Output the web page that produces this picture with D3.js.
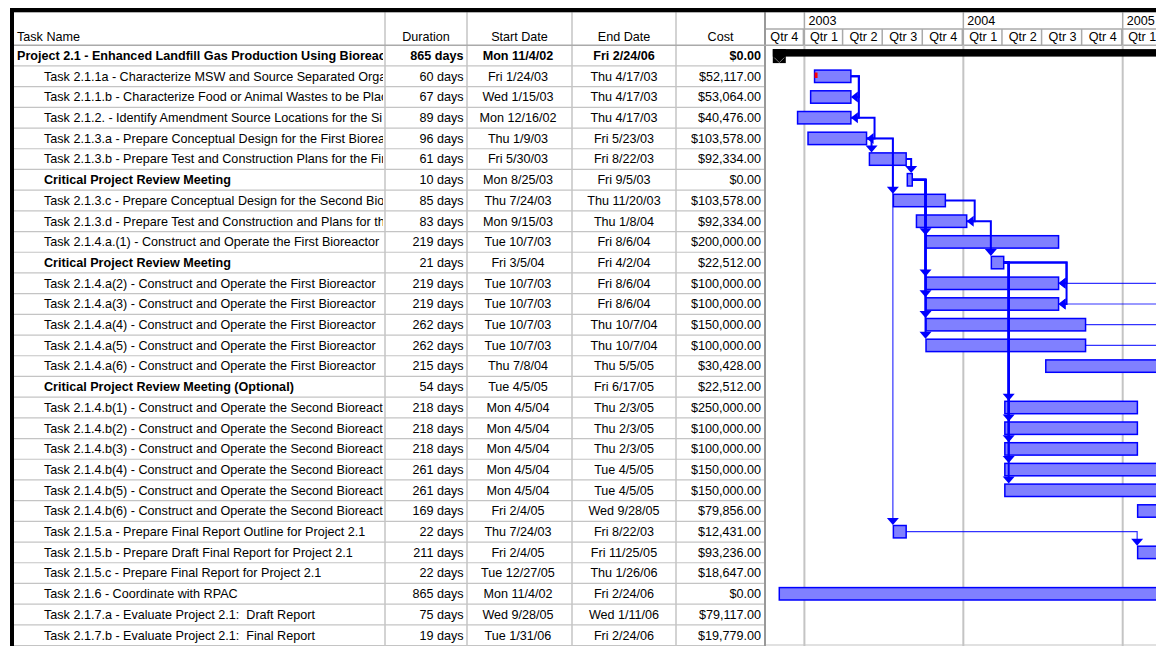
<!DOCTYPE html>
<html>
<head>
<meta charset="utf-8">
<script src="https://cdn.jsdelivr.net/npm/d3@7"></script>
<style>
  body { margin: 0; background: #fff; }
  svg { display: block; font-family: "Liberation Sans", Arial, sans-serif; font-size: 12.6px; }
  svg text { white-space: pre; }
</style>
</head>
<body>
<div id="chart"></div>
<script>

// names as the column shows them (the column cuts them off)
var taskNames = [
  "Project 2.1 - Enhanced Landfill Gas Production Using Bioreact",
  "Task 2.1.1a - Characterize MSW and Source Separated Orga",
  "Task 2.1.1.b - Characterize Food or Animal Wastes to be Plac",
  "Task 2.1.2. - Identify Amendment Source Locations for the Si",
  "Task 2.1.3.a - Prepare Conceptual Design for the First Bioreac",
  "Task 2.1.3.b - Prepare Test and Construction Plans for the Fir",
  "Critical Project Review Meeting",
  "Task 2.1.3.c - Prepare Conceptual Design for the Second Bior",
  "Task 2.1.3.d - Prepare Test and Construction and Plans for the",
  "Task 2.1.4.a.(1) - Construct and Operate the First Bioreactor",
  "Critical Project Review Meeting",
  "Task 2.1.4.a(2) - Construct and Operate the First Bioreactor",
  "Task 2.1.4.a(3) - Construct and Operate the First Bioreactor",
  "Task 2.1.4.a(4) - Construct and Operate the First Bioreactor",
  "Task 2.1.4.a(5) - Construct and Operate the First Bioreactor",
  "Task 2.1.4.a(6) - Construct and Operate the First Bioreactor",
  "Critical Project Review Meeting (Optional)",
  "Task 2.1.4.b(1) - Construct and Operate the Second Bioreacto",
  "Task 2.1.4.b(2) - Construct and Operate the Second Bioreacto",
  "Task 2.1.4.b(3) - Construct and Operate the Second Bioreacto",
  "Task 2.1.4.b(4) - Construct and Operate the Second Bioreacto",
  "Task 2.1.4.b(5) - Construct and Operate the Second Bioreacto",
  "Task 2.1.4.b(6) - Construct and Operate the Second Bioreacto",
  "Task 2.1.5.a - Prepare Final Report Outline for Project 2.1",
  "Task 2.1.5.b - Prepare Draft Final Report for Project 2.1",
  "Task 2.1.5.c - Prepare Final Report for Project 2.1",
  "Task 2.1.6 - Coordinate with RPAC",
  "Task 2.1.7.a - Evaluate Project 2.1:  Draft Report",
  "Task 2.1.7.b - Evaluate Project 2.1:  Final Report"
];

var durations = [
  "865 days", "60 days", "67 days", "89 days", "96 days", "61 days", "10 days",
  "85 days", "83 days", "219 days", "21 days", "219 days", "219 days", "262 days",
  "262 days", "215 days", "54 days", "218 days", "218 days", "218 days", "261 days",
  "261 days", "169 days", "22 days", "211 days", "22 days", "865 days", "75 days", "19 days"
];

var startDates = [
  "Mon 11/4/02", "Fri 1/24/03", "Wed 1/15/03", "Mon 12/16/02", "Thu 1/9/03", "Fri 5/30/03",
  "Mon 8/25/03", "Thu 7/24/03", "Mon 9/15/03", "Tue 10/7/03", "Fri 3/5/04", "Tue 10/7/03",
  "Tue 10/7/03", "Tue 10/7/03", "Tue 10/7/03", "Thu 7/8/04", "Tue 4/5/05", "Mon 4/5/04",
  "Mon 4/5/04", "Mon 4/5/04", "Mon 4/5/04", "Mon 4/5/04", "Fri 2/4/05", "Thu 7/24/03",
  "Fri 2/4/05", "Tue 12/27/05", "Mon 11/4/02", "Wed 9/28/05", "Tue 1/31/06"
];

var endDates = [
  "Fri 2/24/06", "Thu 4/17/03", "Thu 4/17/03", "Thu 4/17/03", "Fri 5/23/03", "Fri 8/22/03",
  "Fri 9/5/03", "Thu 11/20/03", "Thu 1/8/04", "Fri 8/6/04", "Fri 4/2/04", "Fri 8/6/04",
  "Fri 8/6/04", "Thu 10/7/04", "Thu 10/7/04", "Thu 5/5/05", "Fri 6/17/05", "Thu 2/3/05",
  "Thu 2/3/05", "Thu 2/3/05", "Tue 4/5/05", "Tue 4/5/05", "Wed 9/28/05", "Fri 8/22/03",
  "Fri 11/25/05", "Thu 1/26/06", "Fri 2/24/06", "Wed 1/11/06", "Fri 2/24/06"
];

var costs = [
  "$0.00", "$52,117.00", "$53,064.00", "$40,476.00", "$103,578.00", "$92,334.00", "$0.00",
  "$103,578.00", "$92,334.00", "$200,000.00", "$22,512.00", "$100,000.00", "$100,000.00",
  "$150,000.00", "$100,000.00", "$30,428.00", "$22,512.00", "$250,000.00", "$100,000.00",
  "$100,000.00", "$150,000.00", "$150,000.00", "$79,856.00", "$12,431.00", "$93,236.00",
  "$18,647.00", "$0.00", "$79,117.00", "$19,779.00"
];

var boldRows = [0, 6, 10, 16];
var summaryRows = [0];
var noteRows = [1];

// [predecessor, successor, type, critical]
var links = [
  [1, 2, "FF", true], [1, 3, "FF", true], [3, 4, "FF", true],
  [4, 5, "FS", true], [4, 7, "FS", true], [4, 23, "FS", false],
  [5, 6, "FS", true],
  [6, 9, "FS", true], [6, 11, "FS", true], [6, 12, "FS", true], [6, 13, "FS", true], [6, 14, "FS", true],
  [7, 8, "FF", true], [8, 10, "FS", true],
  [10, 11, "FF", true], [10, 12, "FF", true],
  [10, 17, "FS", true], [10, 18, "FS", true], [10, 19, "FS", true], [10, 20, "FS", true], [10, 21, "FS", true],
  [13, 16, "FS", false], [14, 16, "FS", false],
  [15, 11, "FF", false], [15, 12, "FF", false],
  [23, 24, "FS", false]
];

var columnHeaders = ["Task Name", "Duration", "Start Date", "End Date", "Cost"];
var quarterNames = ["Qtr 1", "Qtr 2", "Qtr 3", "Qtr 4"];


var width = 1156,
  height = 646;

var colEdges = [14, 385, 467, 572, 676, 765];
var ganttLeft = 766,
  headTop = 12.3,
  headMid = 29,
  headBottom = 45.25;

var gridGrey = "#c4c4c4",
  headGrey = "#aaaaaa",
  blue = "#0000ff",
  barFill = "#8080ff";

var parseDay = d3.timeParse("%a %m/%d/%y");

var x = d3.scaleTime()
  .domain([new Date(2003, 0, 1), new Date(2005, 0, 1)])
  .range([804.4, 1122.7]);

var y = d3.scaleBand()
  .domain(d3.range(taskNames.length))
  .range([headBottom, headBottom + taskNames.length * 20.7])
  .padding(0);

var cy = function(i) { return y(i) + y.bandwidth() / 2; };
var xStart = function(i) { return x(d3.timeHour.offset(parseDay(startDates[i]), 8)); };
var xEnd = function(i) { return x(d3.timeHour.offset(parseDay(endDates[i]), 17)); };

var svg = d3.select("#chart").append("svg")
  .attr("width", width)
  .attr("height", height);

var defs = svg.append("defs");

defs.append("clipPath").attr("id", "clip-gantt")
  .append("rect")
  .attr("x", ganttLeft).attr("y", headBottom)
  .attr("width", width - ganttLeft).attr("height", height - headBottom);

defs.append("clipPath").attr("id", "clip-ghead")
  .append("rect")
  .attr("x", ganttLeft).attr("y", headTop)
  .attr("width", width - ganttLeft).attr("height", headBottom - headTop);

for (var c = 0; c < 5; c++) {
  defs.append("clipPath").attr("id", "clip-col" + c)
    .append("rect")
    .attr("x", colEdges[c] + 1).attr("y", 0)
    .attr("width", colEdges[c + 1] - colEdges[c] - 3).attr("height", height);
}

svg.append("rect").attr("width", width).attr("height", height).attr("fill", "#fff");

// ---- table grid ----
var rows = d3.range(taskNames.length);

svg.append("g").selectAll("line")
  .data(rows.map(function(i) { return y(i) + y.bandwidth(); }))
  .enter().append("line")
  .attr("x1", colEdges[0]).attr("x2", colEdges[5])
  .attr("y1", function(d) { return d; }).attr("y2", function(d) { return d; })
  .attr("stroke", gridGrey).attr("stroke-width", 1.2);

svg.append("g").selectAll("line")
  .data(colEdges.slice(1, 5))
  .enter().append("line")
  .attr("x1", function(d) { return d; }).attr("x2", function(d) { return d; })
  .attr("y1", headTop).attr("y2", height)
  .attr("stroke", gridGrey).attr("stroke-width", 1.5);

svg.append("line")
  .attr("x1", colEdges[5]).attr("x2", colEdges[5])
  .attr("y1", headTop).attr("y2", height)
  .attr("stroke", "#999").attr("stroke-width", 2);

svg.append("line")
  .attr("x1", colEdges[0]).attr("x2", width)
  .attr("y1", headBottom).attr("y2", headBottom)
  .attr("stroke", headGrey).attr("stroke-width", 1.5);

// ---- table header ----
var headerX = [17, 426, 519.5, 624, 720.5],
  headerAnchor = ["start", "middle", "middle", "middle", "middle"];

svg.append("g").selectAll("text")
  .data(columnHeaders)
  .enter().append("text")
  .attr("x", function(d, i) { return headerX[i]; })
  .attr("y", 41)
  .attr("text-anchor", function(d, i) { return headerAnchor[i]; })
  .text(function(d) { return d; });

// ---- table cells ----
var isBold = function(i) { return boldRows.indexOf(i) >= 0; };
var isSummary = function(i) { return summaryRows.indexOf(i) >= 0; };

var cellCols = [
  { vals: taskNames, x: function(i) { return isSummary(i) ? 17 : 44; }, anchor: "start", bold: isBold },
  { vals: durations, x: function() { return 463.5; }, anchor: "end", bold: isSummary },
  { vals: startDates, x: function() { return 518; }, anchor: "middle", bold: isSummary },
  { vals: endDates, x: function() { return 624; }, anchor: "middle", bold: isSummary },
  { vals: costs, x: function() { return 761; }, anchor: "end", bold: isSummary }
];

cellCols.forEach(function(col, c) {
  svg.append("g")
    .attr("clip-path", "url(#clip-col" + c + ")")
    .selectAll("text")
    .data(rows)
    .enter().append("text")
    .attr("x", function(i) { return col.x(i); })
    .attr("y", function(i) { return cy(i) + 4.3; })
    .attr("text-anchor", col.anchor)
    .attr("font-weight", function(i) { return col.bold(i) ? "bold" : "normal"; })
    .text(function(i) { return col.vals[i]; });
});

// ---- gantt header ----
var ghead = svg.append("g").attr("clip-path", "url(#clip-ghead)");

var quarters = d3.timeMonth.every(3).range(new Date(2002, 9, 1), new Date(2005, 9, 1));
var years = d3.timeYear.range(new Date(2002, 0, 1), new Date(2006, 0, 1));

ghead.append("line")
  .attr("x1", ganttLeft).attr("x2", width)
  .attr("y1", headMid).attr("y2", headMid)
  .attr("stroke", headGrey).attr("stroke-width", 1.5);

ghead.selectAll(".qline")
  .data(quarters)
  .enter().append("line")
  .attr("x1", function(d) { return x(d) - 1; }).attr("x2", function(d) { return x(d) - 1; })
  .attr("y1", headMid).attr("y2", headBottom)
  .attr("stroke", headGrey).attr("stroke-width", 1.5);

ghead.selectAll(".yline")
  .data(years)
  .enter().append("line")
  .attr("x1", function(d) { return x(d); }).attr("x2", function(d) { return x(d); })
  .attr("y1", headTop).attr("y2", headBottom)
  .attr("stroke", headGrey).attr("stroke-width", 1.5);

// only label the cells that start inside the visible window
ghead.selectAll(".qlabel")
  .data(quarters.filter(function(d) { return x(d) < width - 10; }))
  .enter().append("text")
  .attr("x", function(d) { return (x(d) + x(d3.timeMonth.offset(d, 3))) / 2; })
  .attr("y", 41)
  .attr("text-anchor", "middle")
  .text(function(d) { return quarterNames[Math.floor(d.getMonth() / 3)]; });

ghead.selectAll(".ylabel")
  .data(years.filter(function(d) { return x(d) >= ganttLeft && x(d) < width - 10; }))
  .enter().append("text")
  .attr("x", function(d) { return x(d) + 4; })
  .attr("y", 25)
  .text(function(d) { return d.getFullYear(); });

// ---- gantt body ----
var gbody = svg.append("g").attr("clip-path", "url(#clip-gantt)");

gbody.selectAll(".grid")
  .data(years)
  .enter().append("line")
  .attr("x1", function(d) { return x(d); }).attr("x2", function(d) { return x(d); })
  .attr("y1", headBottom).attr("y2", height)
  .attr("stroke", gridGrey).attr("stroke-width", 2);

gbody.append("line")
  .attr("x1", ganttLeft).attr("x2", width)
  .attr("y1", height - 1).attr("y2", height - 1)
  .attr("stroke", gridGrey).attr("stroke-width", 1.2);

// summary bar
summaryRows.forEach(function(i) {
  var s = xStart(i), e = xEnd(i), c0 = cy(i);
  gbody.append("rect")
    .attr("x", s - 6.5).attr("y", c0 - 6.5)
    .attr("width", e - s + 13).attr("height", 7.5)
    .attr("fill", "#000");
  [s, e].forEach(function(px) {
    gbody.append("rect")
      .attr("x", px - 6.5).attr("y", c0 - 6.5)
      .attr("width", 13).attr("height", 14)
      .attr("fill", "#000");
    gbody.append("path")
      .attr("d", "M" + (px - 5) + "," + (c0 + 2) + "L" + px + "," + (c0 + 7) + "L" + (px + 5) + "," + (c0 + 2))
      .attr("fill", "none").attr("stroke", "#777").attr("stroke-width", 1);
  });
});

// task bars
var taskRows = rows.filter(function(i) { return !isSummary(i); });

gbody.selectAll(".bar")
  .data(taskRows)
  .enter().append("rect")
  .attr("x", function(i) { return xStart(i); })
  .attr("y", function(i) { return cy(i) - 6.2; })
  .attr("width", function(i) { return xEnd(i) - xStart(i); })
  .attr("height", 12.4)
  .attr("fill", barFill)
  .attr("stroke", blue)
  .attr("stroke-width", 1.5);

gbody.selectAll(".note")
  .data(noteRows)
  .enter().append("rect")
  .attr("x", function(i) { return xStart(i); })
  .attr("y", function(i) { return cy(i) - 3.8; })
  .attr("width", 3).attr("height", 5.5)
  .attr("fill", "#ff0000");

// dependency links
var linkShapes = links.map(function(l) {
  var p = l[0], s = l[1];
  var x1 = xEnd(p), y1 = cy(p), line, head;
  if (l[2] == "FS") {
    var X = Math.max(x1 + 5, xStart(s) - 0.5);
    var tip = cy(s) - 6.7;
    line = "M" + x1 + "," + y1 + "H" + X + "V" + (tip - 6);
    head = "M" + (X - 6) + "," + (tip - 7) + "L" + (X + 6) + "," + (tip - 7) + "L" + X + "," + tip + "Z";
  } else {
    var x2 = xEnd(s), y2 = cy(s);
    var X2 = Math.max(x1, x2) + 8;
    line = "M" + x1 + "," + y1 + "H" + X2 + "V" + y2 + "H" + (x2 + 6);
    head = "M" + x2 + "," + y2 + "L" + (x2 + 7) + "," + (y2 - 5.5) + "L" + (x2 + 7) + "," + (y2 + 5.5) + "Z";
  }
  return { line: line, head: head, critical: l[3] };
});

// thin ones first so the heavy lines sit on top
linkShapes.sort(function(a, b) { return a.critical - b.critical; });

gbody.selectAll(".link")
  .data(linkShapes)
  .enter().append("path")
  .attr("d", function(d) { return d.line; })
  .attr("fill", "none")
  .attr("stroke", blue)
  .attr("stroke-opacity", function(d) { return d.critical ? 1 : 0.8; })
  .attr("stroke-width", function(d) { return d.critical ? 2 : 1.2; });

gbody.selectAll(".arrow")
  .data(linkShapes)
  .enter().append("path")
  .attr("d", function(d) { return d.head; })
  .attr("fill", blue);

// ---- heavy frame ----
svg.append("rect").attr("x", 10).attr("y", 8).attr("width", width - 10).attr("height", 4.3).attr("fill", "#000");
svg.append("rect").attr("x", 10).attr("y", 8).attr("width", 4).attr("height", height - 8).attr("fill", "#000");

</script>
</body>
</html>
